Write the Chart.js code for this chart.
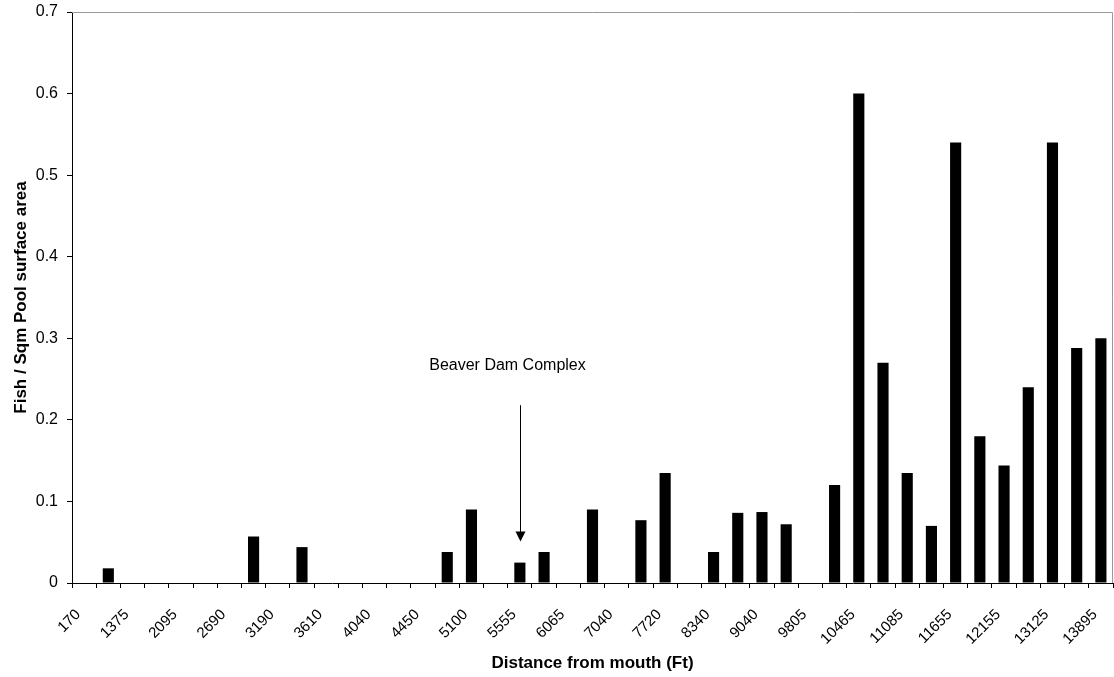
<!DOCTYPE html>
<html>
<head>
<meta charset="utf-8">
<title>Fish density by distance from mouth</title>
<script src="https://cdn.jsdelivr.net/npm/chart.js@4.4.1/dist/chart.umd.min.js"></script>
<style>
  html, body { margin: 0; padding: 0; background: #fff; }
  #wrap { width: 1114px; height: 677px; position: relative; }
</style>
</head>
<body>
<div id="wrap"><canvas id="chart"></canvas></div>
<script>
// ── Data ──
// only every other distance is labelled on the axis; the ones in between are left blank
const shownLabels = [
  '170','1375','2095','2690','3190','3610','4040','4450','5100','5555','6065',
  '7040','7720','8340','9040','9805','10465','11085','11655','12155','13125','13895'
];
const fishPerSqm = [
  0, 0.018, 0, 0, 0, 0, 0, 0.057, 0, 0.044,
  0, 0, 0, 0, 0, 0.038, 0.09, 0, 0.025, 0.038,
  0, 0.09, 0, 0.077, 0.135, 0, 0.038, 0.086, 0.087, 0.072,
  0, 0.12, 0.6, 0.27, 0.135, 0.07, 0.54, 0.18, 0.144, 0.24,
  0.54, 0.288, 0.3
];
const yTicks = [0, 0.1, 0.2, 0.3, 0.4, 0.5, 0.6, 0.7];

// annotation: text + arrow pointing at the beaver dam bar
const damIndex = 18;
const damText = 'Beaver Dam Complex';
const damTextY = 0.266;
const damArrowFrom = 0.218;
const damArrowTo = 0.051;

// categories: shown label on even slots, blank on odd
const categories = [];
shownLabels.forEach((l, i) => {
  categories.push(l);
  if (i < shownLabels.length - 1) categories.push('');
});

const FONT = '"Liberation Sans", Arial, sans-serif';

// gray frame on top / right like the original plot area
const frame = {
  id: 'frame',
  beforeDatasetsDraw(chart) {
    const { ctx, chartArea: a } = chart;
    ctx.save();
    ctx.strokeStyle = '#999';
    ctx.lineWidth = 1;
    ctx.beginPath();
    ctx.moveTo(a.left, a.top + 0.5);
    ctx.lineTo(a.right - 0.5, a.top + 0.5);
    ctx.lineTo(a.right - 0.5, a.bottom);
    ctx.stroke();
    ctx.restore();
  }
};

// ── Beaver dam annotation ──
const damNote = {
  id: 'damNote',
  afterDatasetsDraw(chart) {
    const { ctx, scales: { x, y } } = chart;
    const ax = Math.round(x.getPixelForValue(damIndex)) + 0.5;
    const y1 = y.getPixelForValue(damArrowFrom);
    const y2 = y.getPixelForValue(damArrowTo);
    ctx.save();
    ctx.fillStyle = '#000';
    ctx.font = '16px ' + FONT;
    ctx.textAlign = 'center';
    ctx.textBaseline = 'middle';
    ctx.fillText(damText, ax - 13, y.getPixelForValue(damTextY));

    ctx.strokeStyle = '#000';
    ctx.lineWidth = 1;
    ctx.beginPath();
    ctx.moveTo(ax, y1);
    ctx.lineTo(ax, y2 - 9);
    ctx.stroke();
    ctx.beginPath();
    ctx.moveTo(ax - 5, y2 - 10);
    ctx.lineTo(ax + 5, y2 - 10);
    ctx.lineTo(ax, y2);
    ctx.closePath();
    ctx.fill();
    ctx.restore();
  }
};

new Chart(document.getElementById('chart'), {
  type: 'bar',
  data: {
    labels: categories,
    datasets: [{
      data: fishPerSqm,
      backgroundColor: '#000',
      borderWidth: 0,
      barPercentage: 1,
      categoryPercentage: 0.46
    }]
  },
  options: {
    responsive: true,
    maintainAspectRatio: false,
    animation: false,
    layout: { padding: { top: 12, right: 1, left: 0, bottom: 0 } },
    plugins: {
      legend: { display: false },
      tooltip: { enabled: false }
    },
    scales: {
      x: {
        afterFit(scale) {
          scale.height = 94;
          scale.paddingLeft = 0;
          scale.paddingRight = 0;
        },
        grid: {
          offset: true,
          drawOnChartArea: false,
          tickLength: 5,
          color: '#000'
        },
        border: { color: '#000', width: 1 },
        ticks: {
          autoSkip: false,
          maxRotation: 45,
          minRotation: 45,
          padding: 12,
          color: '#000',
          font: { family: FONT, size: 15 },
          // trailing spaces push the rotated text down-left, away from the tick
          callback(v) {
            const l = this.getLabelForValue(v);
            return l ? l + '  ' : '';
          }
        },
        title: {
          display: true,
          text: 'Distance from mouth (Ft)',
          color: '#000',
          font: { family: FONT, size: 17, weight: 'bold' },
          padding: { top: 0, bottom: 3 }
        }
      },
      y: {
        min: 0,
        max: 0.7,
        afterFit(scale) {
          scale.width = 72;
          scale.paddingTop = 0;
          scale.paddingBottom = 0;
        },
        afterBuildTicks(scale) {
          scale.ticks = yTicks.map(v => ({ value: v }));
        },
        grid: {
          drawOnChartArea: false,
          tickLength: 5,
          color: '#000'
        },
        border: { color: '#000', width: 1 },
        ticks: {
          padding: 9,
          color: '#000',
          font: { family: FONT, size: 16 },
          callback: v => v === 0 ? '0' : v.toFixed(1)
        },
        title: {
          display: true,
          text: 'Fish / Sqm Pool surface area',
          color: '#000',
          font: { family: FONT, size: 17, weight: 'bold' },
          padding: { top: 11, bottom: 0 }
        }
      }
    }
  },
  plugins: [frame, damNote]
});
</script>
</body>
</html>
